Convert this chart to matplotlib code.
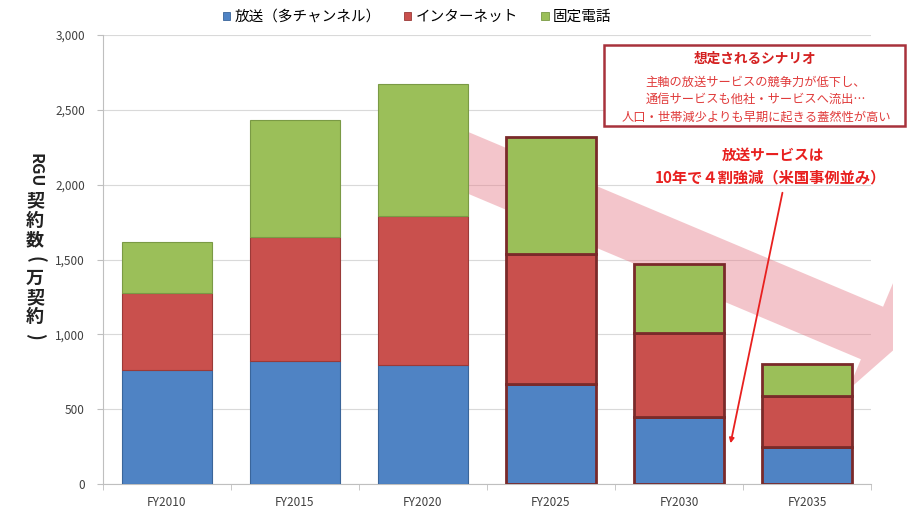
import matplotlib
matplotlib.use('Agg')
import matplotlib.pyplot as plt
import numpy as np
from matplotlib.patches import Polygon, Rectangle, Patch
from matplotlib.ticker import FuncFormatter, MultipleLocator, FixedLocator

plt.rcParams['font.family'] = ['Noto Sans CJK JP', 'DejaVu Sans']

# ---- data ----
categories = ['FY2010', 'FY2015', 'FY2020', 'FY2025', 'FY2030', 'FY2035']
broadcast = [765, 825, 795, 665, 445, 245]      # 放送（多チャンネル）
internet = [510, 825, 995, 870, 565, 340]       # インターネット
fixed_phone = [345, 780, 880, 785, 460, 215]    # 固定電話
series_names = ['放送（多チャンネル）', 'インターネット', '固定電話']
forecast_flags = [False, False, False, True, True, True]

colors = ['#4f83c4', '#c9504d', '#9bbf59']
past_edges = ['#3a659a', '#9a3a38', '#7a9a45']
future_edge = '#7a2a2a'

W, H = 908, 513
fig = plt.figure(figsize=(W / 100, H / 100), dpi=100)


def px(x, y):
    return (x / W, 1 - y / H)


ax = fig.add_axes([103 / W, 1 - 484 / H, (871 - 103) / W, (484 - 35) / H])

x = np.arange(len(categories))
bw = 0.70
bottoms = np.zeros(len(categories))
for vals, col, pe in zip([broadcast, internet, fixed_phone], colors, past_edges):
    vals = np.array(vals, dtype=float)
    ecs = [future_edge if f else pe for f in forecast_flags]
    lws = [2.0 if f else 0.8 for f in forecast_flags]
    ax.bar(x, vals, bw, bottom=bottoms, color=col, edgecolor=ecs,
           linewidth=lws, zorder=3)
    bottoms += vals

ax.set_xlim(-0.5, len(categories) - 0.5)
ax.set_ylim(0, 3000)
ax.yaxis.set_major_locator(MultipleLocator(500))
ax.yaxis.set_major_formatter(FuncFormatter(lambda v, p: f'{int(v):,}'))
ax.grid(axis='y', color='#d9d9d9', linewidth=0.8, zorder=0)
ax.set_axisbelow(True)
for s in ['top', 'right']:
    ax.spines[s].set_visible(False)
for s in ['left', 'bottom']:
    ax.spines[s].set_color('#bfbfbf')
    ax.spines[s].set_linewidth(0.8)
ax.set_xticks(x)
ax.set_xticklabels(categories)
ax.xaxis.set_minor_locator(FixedLocator(np.arange(-0.5, len(categories), 1.0)))
ax.tick_params(axis='x', which='major', length=0, labelsize=8.5,
               labelcolor='#404040', pad=9)
ax.tick_params(axis='x', which='minor', length=4, color='#bfbfbf')
ax.tick_params(axis='y', length=4, color='#bfbfbf', labelsize=8.5,
               labelcolor='#404040', pad=9)

# ---- big pink arrow (decoration) ----
C0 = np.array([440.0, 151.0])
C1 = np.array([872.0, 333.0])
u = (C1 - C0) / np.linalg.norm(C1 - C0)
n = np.array([-u[1], u[0]])
w = 57 / 2
hh = 62
tip = C1 + 30 * u
pts_px = [C0 - w * n, C1 - w * n, C1 - hh * n, tip, C1 + hh * n,
          C1 + w * n, C0 + w * n]
arrow = Polygon([px(*p) for p in pts_px], closed=True,
                transform=fig.transFigure, facecolor=(0.9, 0.5, 0.55, 0.45),
                edgecolor='none', zorder=1)
clip = Rectangle((0, 0), 893 / W, 1, transform=fig.transFigure)
ax.add_artist(arrow)
arrow.set_clip_path(clip)
arrow.set_zorder(1)

# ---- legend ----
handles = [Patch(facecolor=c, edgecolor=e, linewidth=0.6)
           for c, e in zip(colors, past_edges)]
fig.legend(handles, series_names, loc='center', bbox_to_anchor=px(417, 17),
           ncol=3, frameon=False, fontsize=10.5, handlelength=0.5,
           handleheight=0.5, handletextpad=0.3, columnspacing=1.6)

# ---- y label (vertical Japanese) ----
fig.text(*px(35, 170), 'RGU', rotation=-90, ha='center', va='center',
         fontsize=11.5, fontweight='bold', color='#222222')
vert_chars = ['契', '約', '数', '(', '万', '契', '約', ')']
for i, ch in enumerate(vert_chars):
    rot = -90 if ch in '()' else 0
    fig.text(*px(35, 201 + i * 19.3), ch, ha='center', va='center',
             rotation=rot, rotation_mode='anchor' if rot else 'default',
             fontsize=13, fontweight='bold', color='#222222')

# ---- scenario box ----
box = Rectangle(px(604, 126), (905 - 604) / W, (126 - 45) / H,
                transform=fig.transFigure, facecolor='white',
                edgecolor='#a8323c', linewidth=1.8, zorder=5)
fig.patches.append(box)
fig.text(*px(755, 59), '想定されるシナリオ', ha='center', va='center',
         fontsize=9.8, fontweight='bold', color='#d42020', zorder=6)
fig.add_artist(plt.Line2D([694 / W, 816 / W], [1 - 68 / H, 1 - 68 / H],
                          color='#d42020', linewidth=0.8))
scen_lines = ['主軸の放送サービスの競争力が低下し、',
              '通信サービスも他社・サービスへ流出…',
              '人口・世帯減少よりも早期に起きる蓋然性が高い']
for i, t in enumerate(scen_lines):
    fig.text(*px(756, 82 + i * 17.5), t, ha='center', va='center',
             fontsize=8.8, color='#e03a3a', zorder=6)

# ---- annotation ----
fig.text(*px(773, 155), '放送サービスは', ha='center', va='center',
         fontsize=10.5, fontweight='bold', color='#e8201f')
fig.text(*px(770, 177), '10年で４割強減（米国事例並み）', ha='center',
         va='center', fontsize=11, fontweight='bold', color='#e8201f')
ax.annotate('', xy=px(730, 446), xycoords='figure fraction',
            xytext=px(783, 190), textcoords='figure fraction',
            arrowprops=dict(arrowstyle='-|>', color='#e8201f', lw=1.3,
                            mutation_scale=7), zorder=7)

fig.savefig('out.png', dpi=100)
